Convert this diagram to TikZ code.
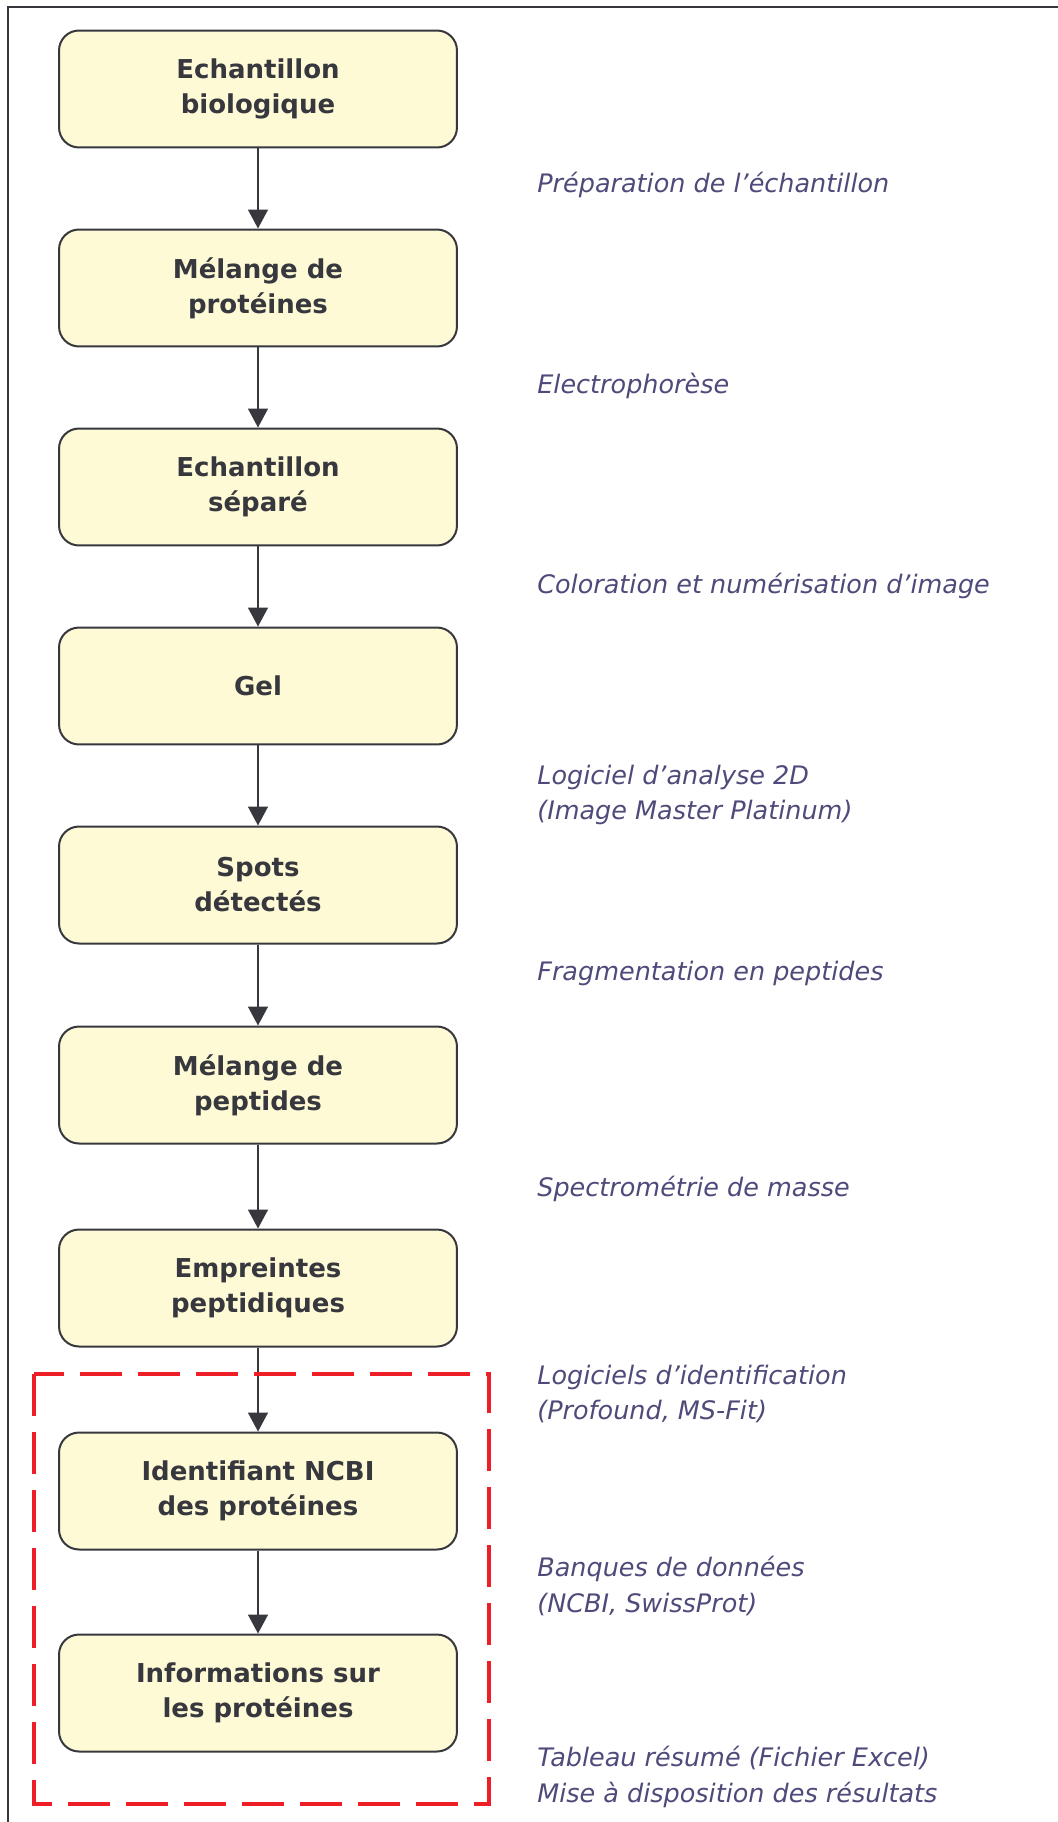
\documentclass[tikz,border=0pt]{standalone}
\usepackage{fontspec}
\setmainfont{DejaVu Sans}
\usetikzlibrary{arrows.meta}
\definecolor{boxfill}{RGB}{255,250,214}
\definecolor{boxline}{RGB}{55,55,62}
\definecolor{methodtext}{RGB}{78,74,122}
\definecolor{dashred}{RGB}{237,30,38}
\tikzstyle{stage}=[draw=boxline, fill=boxfill, line width=0.04cm, rounded corners=0.4cm, minimum width=7.96cm, minimum height=2.34cm, align=center, text=boxline, font=\bfseries\fontsize{14.8}{19.9}\selectfont]
\tikzstyle{flow}=[draw=boxline, line width=0.03cm, -{Triangle[length=0.38cm,width=0.4cm]}]
\tikzstyle{method}=[anchor=west, align=left, inner sep=0pt, text=methodtext, font=\itshape\fontsize{14.5}{20.2}\selectfont]
\tikzstyle{frame}=[draw=boxline, line width=0.04cm]
\tikzstyle{zone}=[draw=dashred, line width=0.09cm, dash pattern=on 0.84cm off 0.32cm]

\begin{document}
\begin{tikzpicture}[x=0.02cm, y=-0.02cm]
  \useasboundingbox (0,0) rectangle (1058,1822);
  \def\cx{258}
  \def\lx{537}

% outer frame
  \draw[frame] (8,1822) -- (8,7) -- (1058,7);

% Stages
  \foreach \pos/\name/\txt in {{(\cx,89)/bio/{Echantillon\\biologique}}, {(\cx,288)/prot/{Mélange de\\protéines}},
      {(\cx,487)/sep/{Echantillon\\séparé}}, {(\cx,686)/gel/{Gel}}, {(\cx,885)/spots/{Spots\\détectés}},
      {(\cx,1085)/pept/{Mélange de\\peptides}}, {(\cx,1288)/empr/{Empreintes\\peptidiques}},
      {(\cx,1491)/ncbi/{Identifiant NCBI\\des protéines}}, {(\cx,1693)/info/{Informations sur\\les protéines}}}
    \node[stage] (\name) at \pos {\txt};

% Connect stages
  \foreach \source/\dest in {bio/prot, prot/sep, sep/gel, gel/spots, spots/pept, pept/empr, empr/ncbi, ncbi/info}
    \path[flow] (\source) -- (\dest);

% Methods
  \foreach \y/\name/\txt in {{185/prep/{Préparation de l’échantillon}}, {386/elec/{Electrophorèse}},
      {586/color/{Coloration et numérisation d’image}}, {795/soft/{Logiciel d’analyse 2D\\(Image Master Platinum)}},
      {973/frag/{Fragmentation en peptides}}, {1189/spec/{Spectrométrie de masse}},
      {1394/ident/{Logiciels d’identification\\(Profound, MS-Fit)}}, {1586/bank/{Banques de données\\(NCBI, SwissProt)}},
      {1777/table/{Tableau résumé (Fichier Excel)\\Mise à disposition des résultats}}}
    \node[method] (\name) at (\lx,\y) {\txt};

% Label zone
  \draw[zone] (34,1374) rectangle (489,1804);

\end{tikzpicture}
\end{document}
